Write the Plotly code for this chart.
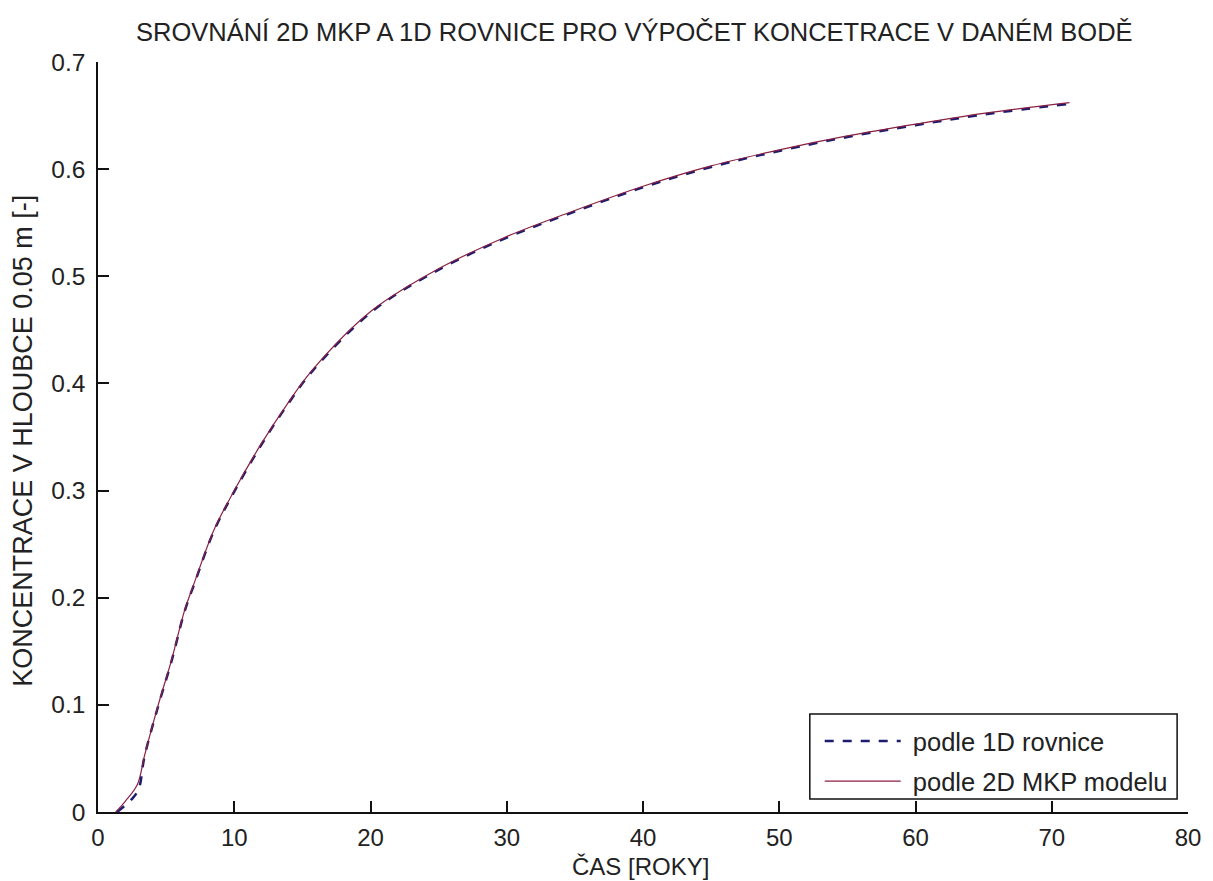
import plotly.graph_objects as go

# --- data ---
t_2d = [1.3, 2.0, 2.9, 3.4, 4.4, 5.4, 6.35, 7.1, 8.5, 10.0, 12.0, 13.9, 15.7,
        20.1, 24.7, 29.8, 34.7, 40.0, 45.0, 50.0, 55.0, 60.0, 65.0, 71.3]
c_2d = [0.0, 0.010, 0.026, 0.052, 0.099, 0.142, 0.188, 0.215, 0.263, 0.300,
        0.344, 0.381, 0.412, 0.468, 0.505, 0.536, 0.560, 0.584, 0.603, 0.618,
        0.631, 0.642, 0.652, 0.662]

t_1d = [1.4, 2.55, 3.0, 3.4, 4.4, 5.4, 6.35, 7.1, 8.5, 10.0, 12.0, 13.9, 15.7,
        20.1, 24.7, 29.8, 34.7, 40.0, 45.0, 50.0, 55.0, 60.0, 65.0, 71.3]
c_1d = [0.0, 0.013, 0.022, 0.051, 0.098, 0.141, 0.187, 0.214, 0.262, 0.299,
        0.343, 0.380, 0.411, 0.467, 0.504, 0.535, 0.559, 0.583, 0.602, 0.617,
        0.630, 0.641, 0.651, 0.661]

x_ticks = [0, 10, 20, 30, 40, 50, 60, 70, 80]
y_ticks = [0, 0.1, 0.2, 0.3, 0.4, 0.5, 0.6, 0.7]
y_tick_text = ["0", "0.1", "0.2", "0.3", "0.4", "0.5", "0.6", "0.7"]

FONT = "Liberation Sans, Arial, sans-serif"
TXT = "#222222"

# plot area in pixels (for placing annotations)
L, R, T, B = 98, 1199, 62, 812
def px(x):
    return (x - L) / (R - L)
def py(y):
    return (B - y) / (B - T)

fig = go.Figure()
fig.add_trace(go.Scatter(
    x=t_1d, y=c_1d, mode="lines", name="\u00a0podle 1D rovnice",
    line=dict(color="#1c1c70", width=2.5, dash="dash", shape="spline"),
    legendgroup="a"))
fig.add_trace(go.Scatter(
    x=t_2d, y=c_2d, mode="lines", name="\u00a0podle 2D MKP modelu",
    line=dict(color="#8a2040", width=1.2, shape="spline"),
    legendgroup="b"))

fig.update_layout(
    width=1213, height=881,
    margin=dict(l=L, r=1213 - R, t=T, b=881 - B),
    paper_bgcolor="white", plot_bgcolor="white",
    font=dict(family=FONT, size=24, color=TXT),
    showlegend=True,
    legend=dict(
        x=px(827), y=py(718), xanchor="left", yanchor="top",
        bgcolor="rgba(0,0,0,0)", borderwidth=0,
        font=dict(family=FONT, size=25.5, color=TXT),
        itemwidth=76, tracegroupgap=4, traceorder="grouped",
    ),
    shapes=[
        dict(type="rect", xref="paper", yref="paper",
             x0=px(817), x1=px(1188), y0=py(799), y1=py(714),
             line=dict(color="#111111", width=1.5), fillcolor="white",
             layer="below"),
    ],
    annotations=[
        dict(text="SROVNÁNÍ 2D MKP A 1D ROVNICE PRO VÝPOČET KONCETRACE V DANÉM BODĚ",
             xref="paper", yref="paper", x=px(640), y=py(32),
             xanchor="center", yanchor="middle", showarrow=False,
             font=dict(family=FONT, size=25.5, color=TXT)),
        dict(text="ČAS [ROKY]",
             xref="paper", yref="paper", x=px(646), y=py(866.5),
             xanchor="center", yanchor="middle", showarrow=False,
             font=dict(family=FONT, size=24, color=TXT)),
        dict(text="KONCENTRACE V HLOUBCE 0.05 m [-]",
             xref="paper", yref="paper", x=px(22), y=py(441),
             xanchor="center", yanchor="middle", showarrow=False, textangle=-90,
             font=dict(family=FONT, size=27, color=TXT)),
    ],
)

fig.update_xaxes(
    range=[0, 80], tickvals=x_ticks, ticks="inside", ticklen=11, tickwidth=1.5,
    tickcolor="#111111", showline=True, linecolor="#111111", linewidth=1.5,
    showgrid=False, zeroline=False, ticklabelstandoff=3, fixedrange=True,
    tickfont=dict(size=24))
fig.update_yaxes(
    range=[0, 0.7], tickvals=y_ticks, ticktext=y_tick_text, ticks="inside",
    ticklen=11, tickwidth=1.5, tickcolor="#111111", showline=True,
    linecolor="#111111", linewidth=1.5, showgrid=False, zeroline=False,
    ticklabelstandoff=6, fixedrange=True, tickfont=dict(size=24.5))

fig.write_html("out.html")
